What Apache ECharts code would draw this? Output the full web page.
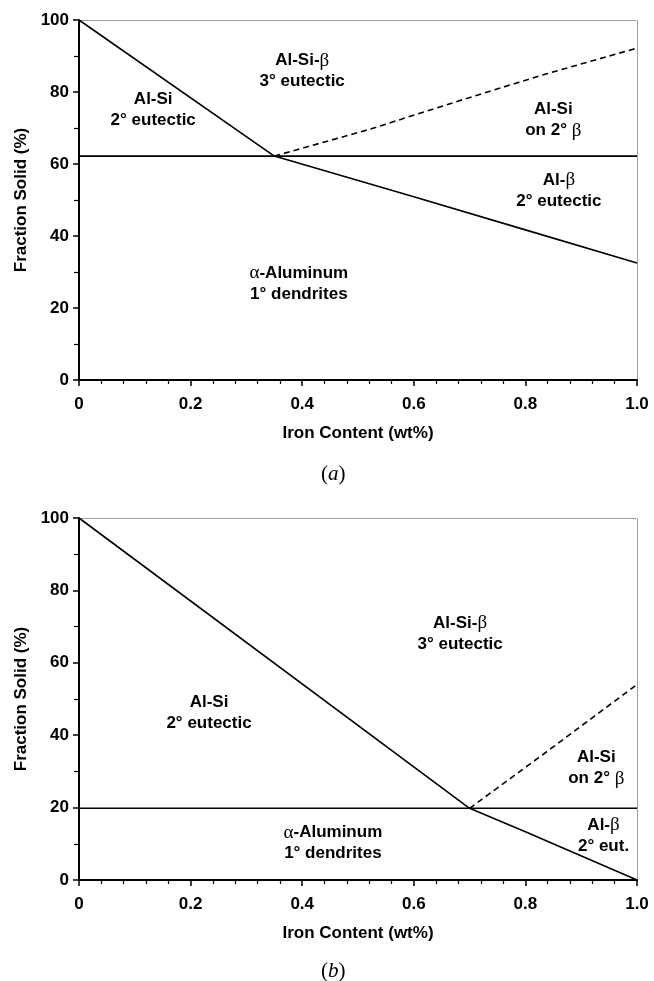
<!DOCTYPE html>
<html>
<head>
<meta charset="utf-8">
<script src="https://cdn.jsdelivr.net/npm/echarts@6/dist/echarts.min.js"></script>
<style>
html, body { margin: 0; padding: 0; background: #fff; }
#chart { width: 654px; height: 981px; }
</style>
</head>
<body>
<div id="chart"></div>
<script>
// tick labels
const xTickLabels = ['0', '0.2', '0.4', '0.6', '0.8', '1.0']
const yTicks = [0, 20, 40, 60, 80, 100]

// (a) boundaries
const aLiqX = [0, 0.35, 0.6, 0.8, 1.0]
const aLiqY = [100, 62.2, 50.9, 41.7, 32.5]
const aFlatX = [0, 1.0]
const aFlatY = [62.2, 62.2]
const aDashX = [0.35, 0.52, 0.68, 0.83, 1.0]
const aDashY = [62.2, 69.6, 77.5, 84.7, 92.2]

// (b)
const bLiqX = [0, 0.7, 0.8, 1.0]
const bLiqY = [100, 19.8, 13.3, 0]
const bFlatX = [0, 1.0]
const bFlatY = [19.8, 19.8]
const bDashX = [0.7, 0.83, 1.0]
const bDashY = [19.8, 34.5, 54]

// region names
const aLabelX = [0.133, 0.40, 0.85, 0.86, 0.394]
const aLabelY = [75, 85.8, 72.2, 52.6, 26.7]
const aLabelText = ['Al-Si\n2° eutectic', 'Al-Si-β\n3° eutectic', 'Al-Si\non 2° β', 'Al-β\n2° eutectic', 'α-Aluminum\n1° dendrites']
const bLabelX = [0.233, 0.683, 0.927, 0.94, 0.455]
const bLabelY = [46.1, 68, 30.9, 12.2, 10.2]
const bLabelText = ['Al-Si\n2° eutectic', 'Al-Si-β\n3° eutectic', 'Al-Si\non 2° β', 'Al-β\n2° eut.', 'α-Aluminum\n1° dendrites']

const sans = 'Liberation Sans, Arial, sans-serif'
const serif = 'Liberation Serif, Times New Roman, serif'

const pairs = (xs, ys) => xs.map((x, i) => [x, ys[i]])

function mainX(gridIndex) {
  return {
    type: 'value', gridIndex: gridIndex, min: 0, max: 1, interval: 0.2,
    name: 'Iron Content (wt%)', nameLocation: 'middle', nameGap: 45,
    nameTextStyle: { fontFamily: sans, fontWeight: 'bold', fontSize: 17, color: '#000' },
    axisLine: { onZero: false, lineStyle: { color: '#000', width: 2 } },
    axisTick: { length: 6, lineStyle: { color: '#000', width: 1.5 } },
    minorTick: { show: true, splitNumber: 5, length: 4, lineStyle: { color: '#000', width: 1.2 } },
    axisLabel: {
      margin: 16, fontFamily: sans, fontWeight: 'bold', fontSize: 17, color: '#000',
      showMinLabel: true, showMaxLabel: true,
      formatter: (v) => xTickLabels[Math.round(v / 0.2)]
    },
    splitLine: { show: false }
  }
}

function mainY(gridIndex) {
  return {
    type: 'value', gridIndex: gridIndex, min: 0, max: 100, interval: 20,
    name: 'Fraction Solid (%)', nameLocation: 'middle', nameGap: 48,
    nameTextStyle: { fontFamily: sans, fontWeight: 'bold', fontSize: 17, color: '#000' },
    axisLine: { onZero: false, lineStyle: { color: '#000', width: 2 } },
    axisTick: { length: 6, lineStyle: { color: '#000', width: 1.5 } },
    minorTick: { show: true, splitNumber: 2, length: 5, lineStyle: { color: '#000', width: 1.2 } },
    axisLabel: {
      margin: 10, fontFamily: sans, fontWeight: 'bold', fontSize: 17, color: '#000',
      formatter: (v) => String(yTicks[Math.round(v / 20)])
    },
    splitLine: { show: false }
  }
}

function borderAxis(gridIndex, position, max) {
  return {
    type: 'value', gridIndex: gridIndex, position: position, min: 0, max: max,
    axisLine: { show: true, onZero: false, lineStyle: { color: '#8a8a8a', width: 1, type: 'dotted' } },
    axisTick: { show: false }, axisLabel: { show: false }, splitLine: { show: false }
  }
}

function line(xs, ys, idx, dashed) {
  return {
    type: 'line', xAxisIndex: idx, yAxisIndex: idx, data: pairs(xs, ys),
    symbol: 'none', silent: true,
    lineStyle: { color: '#000', width: 1.6, type: dashed ? [6, 4] : 'solid' }
  }
}

function labels(xs, ys, texts, idx) {
  return {
    type: 'scatter', xAxisIndex: idx, yAxisIndex: idx, symbolSize: 1,
    itemStyle: { color: 'rgba(0,0,0,0)', opacity: 1 }, silent: true,
    data: xs.map((x, i) => [x, ys[i], texts[i]]),
    label: {
      show: true, position: 'inside', align: 'center', verticalAlign: 'middle',
      fontFamily: sans, fontWeight: 'bold', fontSize: 17, color: '#000', lineHeight: 21,
      formatter: (p) => p.data[2].split('\n').map((s) =>
        s.split(/([αβ])/).filter((t) => t).map((t) => /[αβ]/.test(t) ? '{g|' + t + '}' : '{t|' + t + '}').join('')
      ).join('\n'),
      rich: {
        t: { fontFamily: sans, fontWeight: 'bold', fontSize: 17, color: '#000', lineHeight: 21 },
        g: { fontFamily: serif, fontWeight: 'normal', fontSize: 19, color: '#000', lineHeight: 21 }
      }
    }
  }
}

const myChart = echarts.init(document.getElementById('chart'))
const option = {
  animation: false,
  backgroundColor: '#fff',
  title: [
    { text: '({i|a})', left: 316, top: 459, textStyle: { fontFamily: serif, fontWeight: 'normal', fontSize: 21, color: '#000', rich: { i: { fontFamily: serif, fontStyle: 'italic', fontSize: 21, color: '#000' } } } },
    { text: '({i|b})', left: 316, top: 956, textStyle: { fontFamily: serif, fontWeight: 'normal', fontSize: 21, color: '#000', rich: { i: { fontFamily: serif, fontStyle: 'italic', fontSize: 21, color: '#000' } } } }
  ],
  grid: [
    { left: 79, right: 17, top: 20, height: 360 },
    { left: 79, right: 17, top: 518, height: 362 }
  ],
  xAxis: [mainX(0), mainX(1), borderAxis(0, 'top', 1), borderAxis(1, 'top', 1)],
  yAxis: [mainY(0), mainY(1), borderAxis(0, 'right', 100), borderAxis(1, 'right', 100)],
  series: [
    line(aLiqX, aLiqY, 0, false),
    line(aFlatX, aFlatY, 0, false),
    line(aDashX, aDashY, 0, true),
    labels(aLabelX, aLabelY, aLabelText, 0),
    line(bLiqX, bLiqY, 1, false),
    line(bFlatX, bFlatY, 1, false),
    line(bDashX, bDashY, 1, true),
    labels(bLabelX, bLabelY, bLabelText, 1)
  ]
}
myChart.setOption(option)
</script>
</body>
</html>
